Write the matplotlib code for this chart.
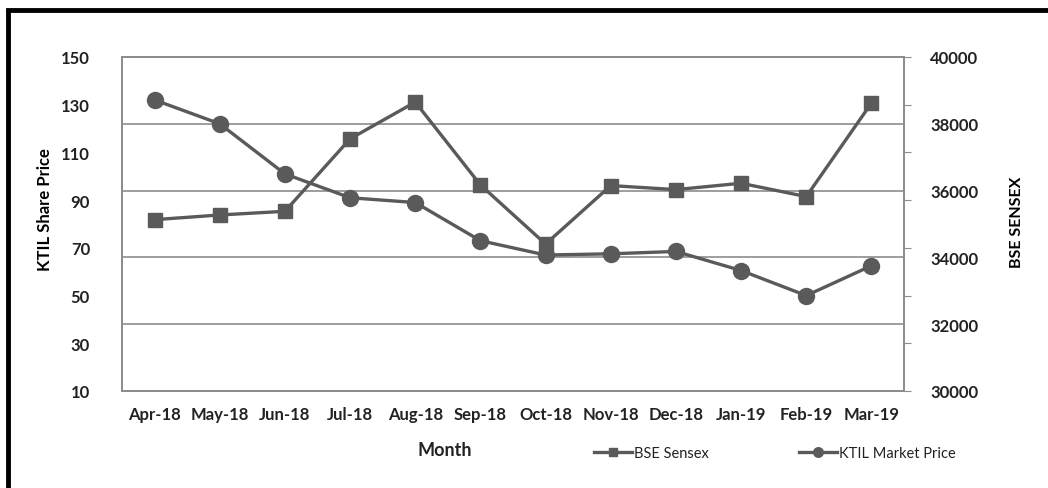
import matplotlib
matplotlib.use("Agg")
import matplotlib.pyplot as plt
from matplotlib.patches import Rectangle

months = ['Apr-18', 'May-18', 'Jun-18', 'Jul-18', 'Aug-18', 'Sep-18',
          'Oct-18', 'Nov-18', 'Dec-18', 'Jan-19', 'Feb-19', 'Mar-19']
ktil_price = [132, 122, 101, 91, 89, 73, 67, 67.5, 68.5, 60.5, 50, 62.5]
bse_sensex = [35130, 35270, 35380, 37550, 38650, 36170,
              34400, 36150, 36030, 36220, 35820, 38620]
left_ticks = [10, 30, 50, 70, 90, 110, 130, 150]
right_ticks = [30000, 32000, 34000, 36000, 38000, 40000]

plt.rcParams['font.family'] = ['Lato', 'DejaVu Sans']
line_col = '#5a5a5a'
grid_col = '#8c8c8c'
txt_col = '#222222'

fig = plt.figure(figsize=(10.48, 4.89), dpi=100)
ax = fig.add_axes([122 / 1048, 1 - 392 / 489, 782 / 1048, 334 / 489])
ax2 = ax.twinx()

x = list(range(len(months)))

# KTIL 股价（左轴）
l1, = ax.plot(x, ktil_price, color=line_col, lw=2.4, marker='o', ms=11.5,
              label='KTIL Market Price', zorder=3)
# BSE Sensex（右轴）
l2, = ax2.plot(x, bse_sensex, color=line_col, lw=2.4, marker='s', ms=10,
               label='BSE Sensex', zorder=3)

ax.set_xlim(-0.5, len(months) - 0.5)
ax.set_ylim(10, 150)
ax2.set_ylim(30000, 40000)
ax.set_xticks(x)
ax.set_xticklabels(months)
ax.set_yticks(left_ticks)
ax2.set_yticks(right_ticks)

# 网格线来自右轴
ax2.grid(axis='y', color=grid_col, lw=1.2)
ax2.set_axisbelow(True)
ax.set_zorder(ax2.get_zorder() + 1)
ax.patch.set_visible(False)

for a in (ax, ax2):
    for s in a.spines.values():
        s.set_color(grid_col)
        s.set_linewidth(1.3)

ax.tick_params(axis='x', length=0, pad=11, labelsize=12, colors=txt_col)
ax.tick_params(axis='y', left=False, right=True, direction='out', length=5,
               color=grid_col, pad=18, labelsize=12, labelcolor=txt_col)
ax2.tick_params(axis='y', length=0, pad=19, labelsize=12, labelcolor=txt_col)
for lab in ax.get_xticklabels() + ax.get_yticklabels() + ax2.get_yticklabels():
    lab.set_fontweight('bold')

# 坐标轴标题
fig.text(45 / 1048, 1 - 210 / 489, 'KTIL Share Price', rotation=90,
         ha='center', va='center', fontsize=12, fontweight='bold', color='black')
fig.text(1017 / 1048, 1 - 222 / 489, 'BSE SENSEX', rotation=90,
         ha='center', va='center', fontsize=11.5, fontweight='bold', color='black')
fig.text(445 / 1048, 1 - 451 / 489, 'Month', ha='center', va='center',
         fontsize=13, fontweight='bold', color=txt_col)

fig.legend(handles=[l2, l1], loc='center left',
           bbox_to_anchor=(588 / 1048, 1 - 454 / 489), ncol=2, frameon=False,
           fontsize=10.5, markerscale=0.6, handlelength=2.6, handletextpad=0.15,
           columnspacing=6.2, borderaxespad=0, labelcolor=txt_col)

# 外框
fig.patches.append(Rectangle((8 / 1048, -0.1), 1.2, 1 - 11 / 489 + 0.1,
                             transform=fig.transFigure, fill=False,
                             edgecolor='black', lw=3.5))

fig.savefig('out.png', dpi=100)
